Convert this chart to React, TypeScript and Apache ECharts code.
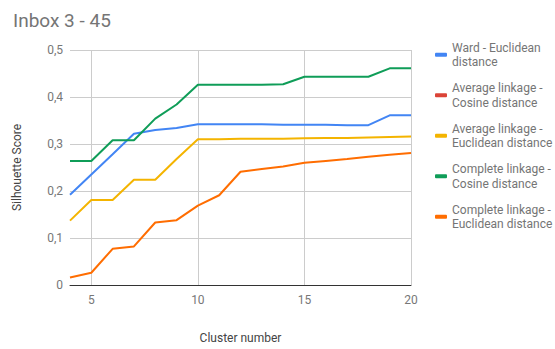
import React, { useEffect, useRef } from "react";
import * as echarts from "echarts";

const clusters = [4, 5, 6, 7, 8, 9, 10, 11, 12, 13, 14, 15, 16, 17, 18, 19, 20];
const seriesNames = [
  "Ward - Euclidean distance",
  "Average linkage - Cosine distance",
  "Average linkage - Euclidean distance",
  "Complete linkage - Cosine distance",
  "Complete linkage - Euclidean distance",
];
const legendLabels = [
  "Ward - Euclidean\ndistance",
  "Average linkage -\nCosine distance",
  "Average linkage -\nEuclidean distance",
  "Complete linkage -\nCosine distance",
  "Complete linkage -\nEuclidean distance",
];
const wardEuclidean = [0.192, 0.235, 0.278, 0.322, 0.33, 0.334, 0.342, 0.342, 0.342, 0.342, 0.341, 0.341, 0.341, 0.34, 0.34, 0.361, 0.361];
const avgCosine: (number | null)[] = [];
const avgEuclidean = [0.137, 0.181, 0.181, 0.224, 0.224, 0.268, 0.31, 0.31, 0.311, 0.311, 0.311, 0.312, 0.313, 0.313, 0.314, 0.315, 0.316];
const completeCosine = [0.264, 0.264, 0.308, 0.308, 0.354, 0.384, 0.426, 0.426, 0.426, 0.426, 0.427, 0.443, 0.443, 0.443, 0.443, 0.461, 0.461];
const completeEuclidean = [0.016, 0.026, 0.077, 0.082, 0.133, 0.138, 0.169, 0.191, 0.241, 0.247, 0.252, 0.26, 0.264, 0.268, 0.273, 0.277, 0.281];
const colors = ["#4285F4", "#DB4437", "#F4B400", "#0F9D58", "#FF6D01"];
const yTicks = { min: 0, max: 0.5, interval: 0.1 };
const xTicks = { min: 4, max: 20, labelEvery: 5 };

export default function App() {
  const ref = useRef<HTMLDivElement>(null);
  useEffect(() => {
    if (!ref.current) return;
    const chart = echarts.init(ref.current, null, { renderer: "svg" });
    const all = [wardEuclidean, avgCosine, avgEuclidean, completeCosine, completeEuclidean];
    const font = "Roboto";
    chart.setOption({
      animation: false,
      color: colors,
      textStyle: { fontFamily: font },
      title: {
        text: "Inbox 3 - 45",
        left: 8,
        top: 6,
        textStyle: { fontFamily: font, fontSize: 19, fontWeight: "normal", color: "#757575" },
      },
      legend: {
        orient: "vertical",
        left: 430,
        top: 28,
        itemGap: -3,
        itemWidth: 12,
        itemHeight: 4,
        icon: "roundRect",
        data: seriesNames,
        formatter: (name: string) => legendLabels[seriesNames.indexOf(name)],
        textStyle: {
          fontFamily: font,
          fontSize: 12,
          color: "#757575",
          lineHeight: 14.5,
          padding: [14.5, 0, 0, 0],
        },
      },
      grid: { left: 70, right: 144, top: 50, bottom: 57.5 },
      xAxis: {
        type: "value",
        min: xTicks.min,
        max: xTicks.max,
        interval: 1,
        name: "Cluster number",
        nameLocation: "middle",
        nameGap: 47,
        nameTextStyle: { fontFamily: font, fontSize: 12, color: "#444" },
        axisLine: { show: true, lineStyle: { color: "#333", width: 1 } },
        axisTick: { show: false },
        axisLabel: {
          margin: 9,
          fontFamily: font,
          fontSize: 12,
          color: "#777",
          formatter: (v: number) => (v % xTicks.labelEvery === 0 ? String(v) : ""),
        },
        splitLine: {
          show: true,
          showMinLine: false,
          lineStyle: { color: ["#cccccc", "transparent", "transparent", "transparent", "transparent"], width: 1 },
        },
      },
      yAxis: {
        type: "value",
        min: yTicks.min,
        max: yTicks.max,
        interval: yTicks.interval,
        name: "Silhouette Score",
        nameLocation: "middle",
        nameGap: 47,
        nameTextStyle: { fontFamily: font, fontSize: 12, color: "#444" },
        axisLine: { show: false },
        axisTick: { show: false },
        axisLabel: {
          margin: 7,
          fontFamily: font,
          fontSize: 12,
          color: "#777",
          formatter: (v: number) => (v === 0 ? "0" : v.toFixed(1).replace(".", ",")),
        },
        splitLine: { show: true, lineStyle: { color: "#cccccc", width: 1 } },
      },
      series: seriesNames.map((name, i) => ({
        name,
        type: "line",
        showSymbol: false,
        symbol: "none",
        lineStyle: { width: 2, color: colors[i] },
        itemStyle: { color: colors[i] },
        data: all[i].map((v, j) => [clusters[j], v]),
      })),
    });
    return () => chart.dispose();
  }, []);
  return <div ref={ref} style={{ width: 555, height: 349, position: "absolute", left: 0, top: 0 }} />;
}
